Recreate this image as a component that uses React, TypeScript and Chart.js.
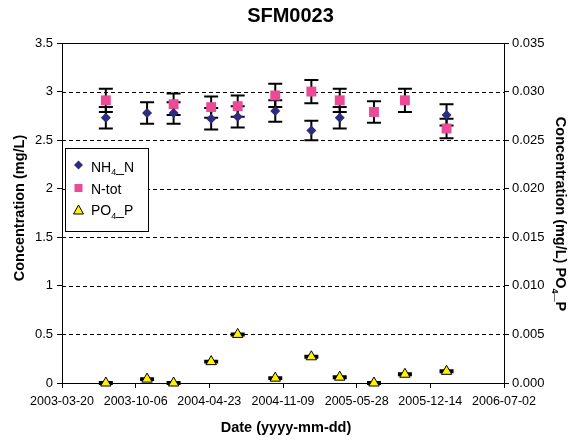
import React, { useEffect, useRef } from "react";
import { Chart, registerables } from "chart.js";
Chart.register(...registerables);

const chartTitle = "SFM0023";
const sampleDates = [
  "2003-07-17", "2003-11-06", "2004-01-17", "2004-04-28", "2004-07-09", "2004-10-19",
  "2005-01-25", "2005-04-12", "2005-07-14", "2005-10-06", "2006-01-27",
];
const nh4Values = [2.73, 2.78, 2.78, 2.72, 2.74, 2.8, 2.6, 2.73, null, null, 2.76];
const nh4Errors = [0.11, 0.11, 0.11, 0.11, 0.11, 0.11, 0.1, 0.11, null, null, 0.11];
const ntotValues = [2.91, null, 2.87, 2.84, 2.85, 2.96, 3.0, 2.91, 2.79, 2.91, 2.62];
const ntotErrors = [0.12, null, 0.11, 0.11, 0.11, 0.12, 0.12, 0.12, 0.11, 0.12, 0.1];
const po4Values = [0.0, 0.0004, 0.0, 0.0022, 0.005, 0.0005, 0.0027, 0.0006, 0.0, 0.0009, 0.0012];
const po4Errors = [0.0001, 0.0001, 0.0001, 0.0001, 0.0001, 0.0001, 0.0001, 0.0001, 0.0001, 0.0001, 0.0001];
const xTickLabels = ["2003-03-20", "2003-10-06", "2004-04-23", "2004-11-09", "2005-05-28", "2005-12-14", "2006-07-02"];
const leftTickLabels = ["0", "0.5", "1", "1.5", "2", "2.5", "3", "3.5"];
const rightTickLabels = ["0.000", "0.005", "0.010", "0.015", "0.020", "0.025", "0.030", "0.035"];

const FONT = "'Liberation Sans', Arial, Helvetica, sans-serif";
const NH4_COLOR = "#2E2C7E";
const NTOT_COLOR = "#EC4A96";
const PO4_COLOR = "#FFF200";

const dayOffset = (d: string) => (Date.parse(d) - Date.parse(xTickLabels[0])) / 86400000;

function buildPoints(vals: (number | null)[], errs: (number | null)[]) {
  const pts: any[] = [];
  vals.forEach((v, i) => {
    if (v === null) return;
    pts.push({ x: dayOffset(sampleDates[i]), y: v, err: errs[i] });
  });
  return pts;
}

function drawSubText(ctx: CanvasRenderingContext2D, parts: { t: string; sub?: boolean }[], size: number, bold: boolean, x: number, y: number, align: "left" | "center") {
  const main = `${bold ? "bold " : ""}${size}px ${FONT}`;
  const subF = `${bold ? "bold " : ""}${Math.round(size * 0.65)}px ${FONT}`;
  let total = 0;
  const widths = parts.map((p) => {
    ctx.font = p.sub ? subF : main;
    const w = ctx.measureText(p.t).width;
    total += w;
    return w;
  });
  let cx = align === "center" ? x - total / 2 : x;
  ctx.textAlign = "left";
  ctx.textBaseline = "alphabetic";
  parts.forEach((p, i) => {
    ctx.font = p.sub ? subF : main;
    ctx.fillText(p.t, cx, p.sub ? y + size * 0.28 : y);
    cx += widths[i];
  });
}

const customPlugin = {
  id: "custom",
  beforeDatasetsDraw(chart: any) {
    const { ctx, chartArea, scales } = chart;
    const y = scales.y;
    ctx.save();
    ctx.strokeStyle = "#000";
    ctx.lineWidth = 1;
    ctx.setLineDash([4, 3]);
    for (let i = 1; i < leftTickLabels.length - 1; i++) {
      const v = parseFloat(leftTickLabels[i]);
      const py = Math.round(y.getPixelForValue(v)) + 0.5;
      ctx.beginPath();
      ctx.moveTo(chartArea.left, py);
      ctx.lineTo(chartArea.right, py);
      ctx.stroke();
    }
    ctx.setLineDash([]);
    ctx.beginPath();
    ctx.moveTo(chartArea.left, chartArea.top + 0.5);
    ctx.lineTo(chartArea.right, chartArea.top + 0.5);
    ctx.stroke();
    // error bars
    ctx.lineWidth = 2;
    chart.data.datasets.forEach((ds: any, di: number) => {
      const meta = chart.getDatasetMeta(di);
      const sc = scales[ds.yAxisID];
      meta.data.forEach((el: any, i: number) => {
        const raw = ds.data[i];
        if (raw.err == null) return;
        const x = el.x;
        const t = sc.getPixelForValue(raw.y + raw.err);
        const b = sc.getPixelForValue(raw.y - raw.err);
        ctx.beginPath();
        ctx.moveTo(x, t);
        ctx.lineTo(x, b);
        ctx.moveTo(x - 7, t);
        ctx.lineTo(x + 7, t);
        ctx.moveTo(x - 7, b);
        ctx.lineTo(x + 7, b);
        ctx.stroke();
      });
    });
    ctx.restore();
  },
  afterDraw(chart: any) {
    const { ctx, chartArea } = chart;
    ctx.save();
    ctx.fillStyle = "#000";
    const cy = (chartArea.top + chartArea.bottom) / 2;
    // main title
    ctx.font = `bold 20px ${FONT}`;
    ctx.textAlign = "center";
    ctx.textBaseline = "middle";
    ctx.fillText(chartTitle, 290.5, 16);
    // x title
    ctx.font = `bold 14.5px ${FONT}`;
    ctx.fillText("Date (yyyy-mm-dd)", 286, 428);
    // left title
    ctx.save();
    ctx.translate(20, cy - 5);
    ctx.rotate(-Math.PI / 2);
    ctx.fillText("Concentration (mg/L)", 0, 0);
    ctx.restore();
    // right title
    ctx.save();
    ctx.translate(556, cy + 1);
    ctx.rotate(Math.PI / 2);
    drawSubText(ctx, [{ t: "Concentration (mg/L) PO" }, { t: "4", sub: true }, { t: "_P" }], 14.5, true, 0, 0, "center");
    ctx.restore();

    // legend
    const lx = 65.5, ly = 148.5, lw = 83, lh = 83;
    ctx.fillStyle = "#fff";
    ctx.fillRect(lx, ly, lw, lh);
    ctx.strokeStyle = "#000";
    ctx.lineWidth = 1;
    ctx.strokeRect(lx, ly, lw, lh);
    const mx = 78.5;
    const rows = [165, 188, 210];
    ctx.fillStyle = NH4_COLOR;
    ctx.beginPath();
    ctx.moveTo(mx - 4.5, rows[0]);
    ctx.lineTo(mx, rows[0] - 4.5);
    ctx.lineTo(mx + 4.5, rows[0]);
    ctx.lineTo(mx, rows[0] + 4.5);
    ctx.closePath();
    ctx.fill();
    ctx.fillStyle = NTOT_COLOR;
    ctx.fillRect(mx - 4, rows[1] - 4, 8, 8);
    ctx.fillStyle = PO4_COLOR;
    ctx.beginPath();
    ctx.moveTo(mx, rows[2] - 5);
    ctx.lineTo(mx + 5, rows[2] + 4);
    ctx.lineTo(mx - 5, rows[2] + 4);
    ctx.closePath();
    ctx.fill();
    ctx.stroke();
    ctx.fillStyle = "#000";
    drawSubText(ctx, [{ t: "NH" }, { t: "4", sub: true }, { t: "_N" }], 14, false, 91, 171.5, "left");
    drawSubText(ctx, [{ t: "N-tot" }], 14, false, 91, 194, "left");
    drawSubText(ctx, [{ t: "PO" }, { t: "4", sub: true }, { t: "_P" }], 14, false, 91, 215, "left");
    ctx.restore();
  },
};

export default function App() {
  const ref = useRef<HTMLCanvasElement | null>(null);
  useEffect(() => {
    document.body.style.margin = "0";
    const canvas = ref.current;
    if (!canvas) return;
    const xFont = { family: FONT, size: 12.5 };
    const yFont = { family: FONT, size: 13 };
    const chart = new Chart(canvas, {
      type: "scatter",
      data: {
        datasets: [
          {
            label: "NH4_N",
            data: buildPoints(nh4Values, nh4Errors),
            yAxisID: "y",
            pointStyle: "rectRot",
            pointRadius: 5,
            backgroundColor: NH4_COLOR,
            borderColor: NH4_COLOR,
            borderWidth: 0,
            clip: false,
          } as any,
          {
            label: "N-tot",
            data: buildPoints(ntotValues, ntotErrors),
            yAxisID: "y",
            pointStyle: "rect",
            pointRadius: 7,
            backgroundColor: NTOT_COLOR,
            borderColor: NTOT_COLOR,
            borderWidth: 0,
            clip: false,
          } as any,
          {
            label: "PO4_P",
            data: buildPoints(po4Values, po4Errors),
            yAxisID: "y1",
            pointStyle: "triangle",
            pointRadius: 6,
            backgroundColor: PO4_COLOR,
            borderColor: "#000",
            borderWidth: 1,
            clip: false,
          } as any,
        ],
      },
      options: {
        responsive: false,
        animation: false,
        layout: { padding: { top: 43, left: 0, right: 0, bottom: 0 } },
        plugins: { legend: { display: false }, title: { display: false }, tooltip: { enabled: false } },
        scales: {
          x: {
            type: "linear",
            min: 0,
            max: dayOffset(xTickLabels[xTickLabels.length - 1]),
            afterBuildTicks: (s: any) => {
              s.ticks = xTickLabels.map((l) => ({ value: dayOffset(l) }));
            },
            afterFit: (s: any) => {
              s.height = 58;
            },
            ticks: {
              callback: (_v: any, i: number) => xTickLabels[i],
              font: xFont,
              color: "#000",
              padding: 6,
              maxRotation: 0,
              autoSkip: false,
            },
            grid: { drawOnChartArea: false, drawTicks: true, tickLength: 5, tickColor: "#000", color: "#000" },
            border: { display: true, color: "#000", width: 1 },
          },
          y: {
            type: "linear",
            position: "left",
            min: 0,
            max: 3.5,
            afterBuildTicks: (s: any) => {
              s.ticks = leftTickLabels.map((l) => ({ value: parseFloat(l) }));
            },
            afterFit: (s: any) => {
              s.width = 62;
            },
            ticks: {
              callback: (_v: any, i: number) => leftTickLabels[i],
              font: yFont,
              color: "#000",
              padding: 4,
            },
            grid: { drawOnChartArea: false, drawTicks: true, tickLength: 5, tickColor: "#000", color: "#000" },
            border: { display: true, color: "#000", width: 1 },
          },
          y1: {
            type: "linear",
            position: "right",
            min: 0,
            max: 0.035,
            afterBuildTicks: (s: any) => {
              s.ticks = rightTickLabels.map((l) => ({ value: parseFloat(l) }));
            },
            afterFit: (s: any) => {
              s.width = 77;
            },
            ticks: {
              callback: (_v: any, i: number) => rightTickLabels[i],
              font: yFont,
              color: "#000",
              padding: 3,
            },
            grid: { drawOnChartArea: false, drawTicks: true, tickLength: 5, tickColor: "#000", color: "#000" },
            border: { display: true, color: "#000", width: 1 },
          },
        },
      } as any,
      plugins: [customPlugin],
    });
    return () => chart.destroy();
  }, []);
  return (
    <div style={{ width: 581, height: 441 }}>
      <canvas ref={ref} width={581} height={441} style={{ display: "block" }} />
    </div>
  );
}
